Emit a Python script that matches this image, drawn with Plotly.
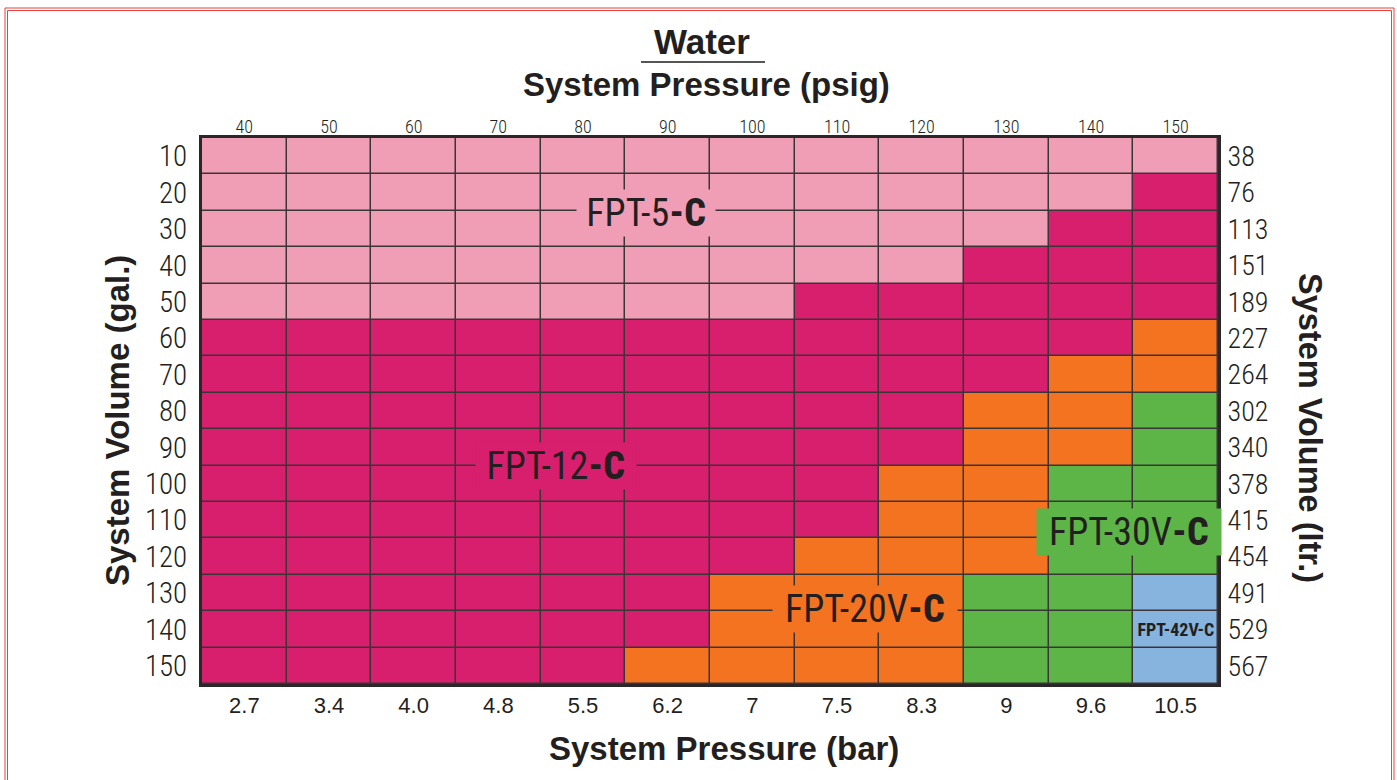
import plotly.graph_objects as go

# ---------------- data ----------------
psig = [40, 50, 60, 70, 80, 90, 100, 110, 120, 130, 140, 150]
bar = ["2.7", "3.4", "4.0", "4.8", "5.5", "6.2", "7", "7.5", "8.3", "9", "9.6", "10.5"]
gal = [10, 20, 30, 40, 50, 60, 70, 80, 90, 100, 110, 120, 130, 140, 150]
ltr = [38, 76, 113, 151, 189, 227, 264, 302, 340, 378, 415, 454, 491, 529, 567]
models = ["FPT-5-C", "FPT-12-C", "FPT-20V-C", "FPT-30V-C", "FPT-42V-C"]
model_colors = ["#F09DB6", "#D71F6E", "#F47321", "#5DB547", "#87B3DF"]
# model index per cell, one string per gallon row, one character per psig column
selection = [
    "000000000000",
    "000000000001",
    "000000000011",
    "000000000111",
    "000000011111",
    "111111111112",
    "111111111122",
    "111111111223",
    "111111111223",
    "111111112233",
    "111111112233",
    "111111122233",
    "111111222334",
    "111111222334",
    "111112222334",
]

# ---------------- layout constants ----------------
W, H = 1397, 780
L, R, T, B = 202, 1218, 138, 684
COND = "Roboto"            # rendered condensed via font-stretch (see CSS below)
REG = "Liberation Sans, Arial, Helvetica, sans-serif"
INK = "#231F20"

z = [[int(c) for c in row] for row in selection]
n = len(models)
scale = []
for i, c in enumerate(model_colors):
    scale.append([i / n, c])
    scale.append([(i + 1) / n, c])

nx, ny = len(psig), len(gal)
xi = list(range(nx))
yi = list(range(ny))

fig = go.Figure()
fig.add_trace(go.Heatmap(
    z=z, x=xi, y=yi, zmin=-0.5, zmax=n - 0.5, colorscale=scale,
    showscale=False, xgap=1.5, ygap=1.5, hoverinfo="skip",
))
# helper trace so that the secondary axes are drawn
fig.add_trace(go.Scatter(
    x=[0, nx - 1], y=[0, ny - 1], xaxis="x2", yaxis="y2", mode="markers",
    marker=dict(opacity=0), showlegend=False, hoverinfo="skip",
))

xr = [-0.5, nx - 0.5]
yr = [ny - 0.5, -0.5]


def px2paper_x(px):
    return (px - L) / (R - L)


def px2paper_y(py):
    return (B - py) / (B - T)


fig.update_layout(
    width=W, height=H,
    margin=dict(l=L, r=W - R, t=T, b=H - B, pad=0),
    paper_bgcolor="white",
    plot_bgcolor="#3A3536",
    showlegend=False,
    xaxis=dict(
        range=xr, tickvals=xi, ticktext=bar, showgrid=False, zeroline=False,
        ticks="", tickfont=dict(family=REG, size=22, color=INK),
        showline=True, linewidth=3, linecolor="#2B2728", mirror=True,
        fixedrange=True,
    ),
    xaxis2=dict(
        range=xr, tickvals=xi, ticktext=[str(v) for v in psig], overlaying="x",
        side="top", anchor="y", showgrid=False, zeroline=False,
        ticks="", tickfont=dict(family=COND, size=18, color=INK, weight=300),
        fixedrange=True,
    ),
    yaxis=dict(
        range=yr, tickvals=yi, ticktext=[str(v) for v in gal], showgrid=False,
        zeroline=False, ticks="outside", ticklen=6, tickcolor="rgba(0,0,0,0)",
        tickfont=dict(family=COND, size=29, color=INK, weight=300),
        showline=True, linewidth=3, linecolor="#2B2728", mirror=True,
        fixedrange=True,
    ),
    yaxis2=dict(
        range=yr, tickvals=yi, ticktext=[str(v) for v in ltr], overlaying="y",
        side="right", anchor="x", showgrid=False, zeroline=False,
        ticks="outside", ticklen=3, tickcolor="rgba(0,0,0,0)",
        tickfont=dict(family=COND, size=28, color=INK, weight=300), fixedrange=True,
    ),
)

ann = []


def title(text, px, py, size, angle=0):
    ann.append(dict(
        text=text, x=px2paper_x(px), y=px2paper_y(py), xref="paper", yref="paper",
        showarrow=False, textangle=angle, xanchor="center", yanchor="middle",
        font=dict(family=REG, size=size, color=INK),
    ))


title("<b>Water</b>", 702, 42, 35)
title("<b>System Pressure (psig)</b>", 706, 85, 33)
title("<b>System Pressure (bar)</b>", 724, 748, 33)
title("<b>System Volume (gal.)</b>", 118, 421, 33, -90)
title("<b>System Volume (ltr.)</b>", 1310, 428, 32.5, 90)

# model labels placed in cell coordinates
label_pos = [(4.74, 1.55, 38), (3.68, 8.5, 38), (7.33, 12.45, 38), (10.45, 10.32, 38), (11.0, 13.0, 18)]
for k, (lx, ly, size) in enumerate(label_pos):
    name = models[k]
    big = size > 25
    text = (f'{name[:-2]}<span style="font-weight:800">{name[-2:]}</span>' if big
            else f"<b>{name}</b>")
    ann.append(dict(
        text=text, x=lx, y=ly, xref="x", yref="y", showarrow=False,
        font=dict(family=COND, size=size, color=INK, weight=430),
        bgcolor=model_colors[k] if big else None, borderpad=1 if big else 0,
    ))
fig.update_layout(annotations=ann)

shapes = [
    # underline below "Water"
    dict(type="line", xref="paper", yref="paper",
         x0=px2paper_x(641), x1=px2paper_x(765), y0=px2paper_y(62), y1=px2paper_y(62),
         line=dict(color="#555555", width=2)),
]
# red double frame around the page
for off in (0, 2.5):
    shapes.append(dict(
        type="rect", xref="paper", yref="paper", layer="above",
        x0=px2paper_x(5 + off), x1=px2paper_x(1394 - off),
        y0=px2paper_y(8 + off), y1=px2paper_y(800),
        line=dict(color="#E8423C", width=1), fillcolor="rgba(0,0,0,0)",
    ))
fig.update_layout(shapes=shapes)

css = 'text[style*="Roboto"], tspan[style*="Roboto"] { font-stretch: 75% !important; }'
post = (
    "var s=document.createElement('style');"
    "s.textContent='" + css + "';"
    "document.head.appendChild(s);"
    "document.body.style.margin='0';"
)
fig.write_html("out.html", config={"displayModeBar": False}, post_script=post)
